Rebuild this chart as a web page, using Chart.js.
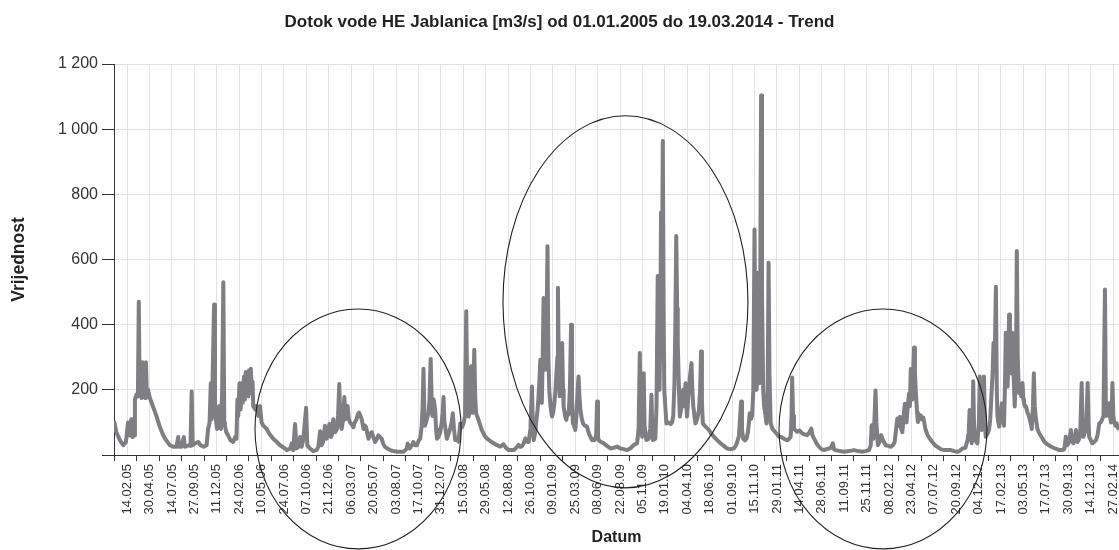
<!DOCTYPE html>
<html>
<head>
<meta charset="utf-8">
<script src="https://cdn.jsdelivr.net/npm/chart.js@4/dist/chart.umd.min.js"></script>
<style>
  html, body { margin: 0; padding: 0; background: #fff; overflow: hidden; }
  #okvir { width: 1119px; height: 550px; position: relative; }
</style>
</head>
<body>
<div id="okvir"><canvas id="grafDotok"></canvas></div>
<script>
// Period i oznake osi (dd.mm.yy)
const pocetak = "01.01.05";
const kraj = "19.03.14";
const oznakeDatuma = ["14.02.05","30.04.05","14.07.05","27.09.05","11.12.05","24.02.06","10.05.06","24.07.06",
  "07.10.06","21.12.06","06.03.07","20.05.07","03.08.07","17.10.07","31.12.07","15.03.08","29.05.08","12.08.08",
  "26.10.08","09.01.09","25.03.09","08.06.09","22.08.09","05.11.09","19.01.10","04.04.10","18.06.10","01.09.10",
  "15.11.10","29.01.11","14.04.11","28.06.11","11.09.11","25.11.11","08.02.12","23.04.12","07.07.12","20.09.12",
  "04.12.12","17.02.13","03.05.13","17.07.13","30.09.13","14.12.13","27.02.14"];
const yOznake = [0, 200, 400, 600, 800, 1000, 1200];

// Dotok [dan od 01.01.2005, m3/s] - ocitano sa slike
const dotok = [
  [0,105],[8,70],[20,45],[31,30],[40,40],[47,100],[53,60],[58,110],[62,55],[64,110],[67,60],[70,170],[75,185],[80,180],
  [83,470],[86,190],[89,280],[92,175],[95,285],[98,180],[101,280],[104,175],[107,285],[110,180],[114,200],[120,175],
  [130,150],[142,120],[152,90],[165,60],[175,45],[187,30],[200,25],[209,25],[215,55],[218,25],[225,25],[234,55],[237,25],
  [250,30],[256,28],[260,195],[263,30],[270,35],[282,40],[290,30],[300,25],[310,30],[315,80],[320,100],[324,220],[327,110],
  [330,230],[335,462],[338,150],[341,110],[345,80],[349,100],[352,150],[355,100],[358,80],[362,200],[366,530],[369,100],
  [371,90],[376,70],[382,60],[390,45],[399,40],[405,55],[410,50],[413,170],[416,120],[420,220],[424,140],[427,220],
  [431,160],[435,240],[438,170],[441,255],[444,190],[447,215],[450,180],[452,260],[455,190],[458,265],[461,200],[464,225],
  [466,150],[472,140],[477,150],[483,120],[489,150],[494,100],[500,90],[511,80],[520,65],[533,50],[545,40],[556,30],[572,20],
  [578,15],[590,20],[595,35],[600,15],[606,95],[611,20],[617,25],[623,55],[628,25],[634,50],[643,145],[647,30],[656,20],
  [667,12],[678,15],[684,25],[690,73],[695,30],[700,40],[706,90],[712,50],[716,70],[721,95],[726,55],[729,60],[734,110],
  [740,70],[746,80],[750,120],[754,218],[758,90],[762,80],[767,110],[771,178],[775,110],[777,140],[782,150],[786,110],
  [790,100],[795,95],[801,85],[806,100],[812,110],[816,125],[820,130],[825,120],[829,110],[835,80],[840,90],[844,85],
  [848,65],[852,50],[857,65],[863,70],[868,55],[874,40],[880,50],[885,60],[890,55],[896,50],[901,35],[907,25],[915,20],
  [924,15],[935,12],[947,10],[958,10],[969,10],[975,15],[980,20],[983,35],[986,30],[990,20],[997,30],[1002,40],[1008,30],
  [1014,30],[1020,45],[1025,50],[1030,90],[1033,150],[1036,265],[1039,120],[1041,90],[1047,110],[1053,130],[1056,170],
  [1060,295],[1063,180],[1066,120],[1070,170],[1075,140],[1078,80],[1081,50],[1086,55],[1092,70],[1097,100],[1100,130],
  [1103,178],[1106,100],[1108,90],[1114,50],[1120,65],[1125,80],[1130,100],[1134,128],[1138,80],
  [1142,46],[1148,50],[1153,41],[1159,97],[1165,85],[1170,97],[1175,120],[1179,441],[1183,150],[1187,118],[1191,140],
  [1195,272],[1198,160],[1200,130],[1203,200],[1206,323],[1209,180],[1212,128],[1220,108],[1231,77],[1240,60],[1248,51],
  [1260,42],[1271,36],[1282,30],[1293,26],[1304,33],[1312,22],[1321,15],[1330,15],[1338,15],[1346,22],[1354,31],[1360,25],
  [1365,26],[1371,35],[1377,51],[1383,40],[1388,40],[1394,80],[1399,210],[1402,90],[1405,46],[1410,70],[1414,108],
  [1418,140],[1421,180],[1424,230],[1427,292],[1430,200],[1432,160],[1435,300],[1438,482],[1441,280],[1444,262],
  [1448,400],[1451,641],[1454,300],[1457,200],[1461,150],[1466,118],[1470,130],[1474,160],[1477,190],[1481,250],
  [1484,300],[1486,513],[1489,250],[1492,180],[1496,240],[1500,344],[1503,200],[1505,149],[1510,120],[1514,108],
  [1518,130],[1522,125],[1526,200],[1530,400],[1533,180],[1536,97],[1540,90],[1544,77],[1548,120],[1552,200],[1555,241],
  [1558,180],[1561,140],[1566,110],[1570,97],[1576,90],[1583,87],[1590,65],[1600,46],[1608,45],[1614,60],[1617,164],
  [1620,60],[1622,46],[1630,40],[1639,36],[1650,28],[1662,20],[1672,22],[1684,26],[1695,20],
  [1706,18],[1717,15],[1728,20],[1740,31],[1751,36],[1756,80],[1760,313],[1764,80],[1768,56],[1771,150],[1773,251],
  [1776,90],[1782,46],[1790,50],[1795,80],[1799,185],[1802,70],[1804,46],[1812,50],[1816,150],[1820,549],[1823,300],
  [1826,200],[1829,400],[1831,744],[1834,500],[1837,964],[1840,400],[1842,200],[1846,140],[1849,97],[1857,100],[1863,95],
  [1868,100],[1872,120],[1876,220],[1879,400],[1882,672],[1885,450],[1887,344],[1891,200],[1894,118],[1900,150],
  [1905,200],[1909,150],[1913,220],[1916,150],[1918,118],[1924,200],[1929,250],[1933,282],[1936,200],[1939,150],
  [1943,120],[1946,97],[1952,110],[1958,138],[1962,200],[1965,318],[1968,160],[1971,97],[1980,87],[1991,77],[2000,65],
  [2008,56],[2020,45],[2030,36],[2041,28],[2052,20],[2064,18],[2075,20],[2082,30],[2086,40],[2092,60],[2096,120],
  [2099,164],[2102,80],[2106,50],[2112,45],[2117,50],[2122,70],[2128,128],[2132,110],[2136,120],[2140,200],[2144,692],
  [2147,300],[2151,200],[2153,350],[2155,559],[2158,300],[2160,220],[2163,500],[2166,1103],[2169,500],[2173,200],
  [2176,150],[2180,128],[2184,97],[2188,200],[2191,590],[2194,250],[2198,97],[2204,80],[2209,75],[2218,65],[2226,56],
  [2234,55],[2242,50],[2254,45],[2260,50],[2265,56],
  [2268,120],[2270,238],[2273,120],[2276,81],[2282,75],[2287,71],[2295,75],[2304,66],[2312,63],[2320,61],[2328,70],
  [2334,81],[2338,60],[2343,51],[2352,35],[2360,25],[2368,18],[2376,15],[2385,18],[2393,20],[2400,22],[2406,36],
  [2410,18],[2415,15],[2430,12],[2443,10],[2460,12],[2477,15],[2490,12],[2505,10],[2515,12],[2527,15],[2533,30],
  [2536,91],[2540,60],[2542,50],[2546,120],[2549,198],[2552,100],[2557,30],[2562,40],[2568,61],[2574,45],[2583,30],
  [2592,28],[2600,25],[2607,30],[2613,40],[2618,80],[2622,112],[2626,90],[2631,117],[2635,80],[2639,70],[2643,120],
  [2647,157],[2650,110],[2653,100],[2657,150],[2661,188],[2664,150],[2667,264],[2670,180],[2672,170],[2675,250],
  [2678,330],[2681,250],[2684,193],[2688,130],[2691,101],[2696,115],[2700,122],[2704,110],[2709,115],[2716,80],
  [2723,61],[2731,50],[2739,40],[2748,30],[2756,25],[2767,18],[2778,15],[2790,15],[2801,15],[2812,12],[2823,10],[2830,12],
  [2840,20],[2850,22],[2857,46],[2861,70],[2864,138],[2867,60],[2871,36],[2874,100],[2876,226],[2879,80],[2882,46],
  [2890,36],[2895,100],[2898,241],[2901,120],[2905,77],[2909,150],[2912,241],[2915,100],[2918,56],[2924,65],[2929,77],
  [2933,110],[2938,200],[2941,250],[2944,344],[2948,300],[2952,516],[2955,200],[2957,120],[2960,100],[2963,87],
  [2967,120],[2972,159],[2976,110],[2979,90],[2982,200],[2985,375],[2988,250],[2991,210],[2994,300],[2996,431],
  [2999,300],[3002,300],[3005,250],[3007,375],[3011,250],[3015,149],[3019,250],[3022,626],[3025,300],[3027,240],
  [3030,190],[3033,200],[3037,180],[3041,221],[3044,170],[3046,160],[3049,150],[3052,150],[3058,130],[3063,118],
  [3068,100],[3072,80],[3076,150],[3079,251],[3082,150],[3086,110],[3091,80],[3097,67],[3105,55],[3114,41],[3125,32],
  [3136,26],[3150,20],[3164,15],[3175,15],[3181,18],[3186,56],[3190,30],[3195,36],[3199,50],[3203,77],[3207,40],
  [3211,36],[3216,50],[3220,77],[3225,40],[3229,46],[3234,60],[3239,221],[3242,100],[3245,56],[3250,70],[3255,100],
  [3259,221],[3262,100],[3264,56],[3270,45],[3275,36],[3281,40],[3287,46],[3292,60],[3298,97],[3303,100],[3307,108],
  [3312,120],[3317,508],[3320,150],[3322,120],[3327,140],[3331,159],[3334,120],[3337,100],[3340,150],[3342,221],
  [3345,120],[3348,100],[3352,90],[3356,97],[3360,85],[3364,77]
];

// Rucno nacrtane elipse (sredina i poluose u jedinicama osa: dani / m3/s)
const elipse = [
  { dan: 817, vrijednost: 80, rDani: 345, rVrijednost: 368 },
  { dan: 1712, vrijednost: 470, rDani: 410, rVrijednost: 571 },
  { dan: 2574, vrijednost: 80, rDani: 348, rVrijednost: 368 }
];

function uDan(s) {
  const [d, m, g] = s.split(".").map(Number);
  return (Date.UTC(2000 + g, m - 1, d) - Date.UTC(2005, 0, 1)) / 86400000;
}

const danKraj = uDan(kraj);
const daniOznaka = oznakeDatuma.map(uDan);
const korak = daniOznaka[1] - daniOznaka[0];

function formatBroj(v) {
  return String(v).replace(/\B(?=(\d{3})+(?!\d))/g, " ");
}

// Crtice na x osi (svakih 75 dana od pocetka) i elipse
const dodaci = {
  id: "dodaci",
  afterDraw(chart) {
    const { ctx, scales: { x, y }, chartArea } = chart;
    ctx.save();
    ctx.strokeStyle = "#333";
    ctx.lineWidth = 1;
    ctx.beginPath();
    for (let d = uDan(pocetak); d <= danKraj; d += korak) {
      const px = Math.round(x.getPixelForValue(d)) + 0.5;
      ctx.moveTo(px, chartArea.bottom);
      ctx.lineTo(px, chartArea.bottom + 6);
    }
    ctx.stroke();

    ctx.strokeStyle = "#222";
    ctx.lineWidth = 1.1;
    elipse.forEach(e => {
      const cx = x.getPixelForValue(e.dan);
      const cy = y.getPixelForValue(e.vrijednost);
      const rx = x.getPixelForValue(e.dan + e.rDani) - cx;
      const ry = cy - y.getPixelForValue(e.vrijednost + e.rVrijednost);
      ctx.beginPath();
      ctx.ellipse(cx, cy, rx, ry, 0, 0, Math.PI * 2);
      ctx.stroke();
    });
    ctx.restore();
  }
};

Chart.defaults.font.family = "'Liberation Sans', Arial, sans-serif";
Chart.defaults.color = "#333";

new Chart(document.getElementById("grafDotok"), {
  type: "line",
  data: {
    datasets: [{
      label: "Dotok",
      data: dotok.map(([d, v]) => ({ x: d, y: v })),
      borderColor: "#7e7e83",
      borderWidth: 4,
      borderJoinStyle: "round",
      pointRadius: 0,
      tension: 0,
      fill: false
    }]
  },
  options: {
    responsive: true,
    maintainAspectRatio: false,
    animation: false,
    layout: { padding: 0 },
    plugins: {
      legend: { display: false },
      tooltip: { enabled: false },
      title: {
        display: true,
        text: "Dotok vode HE Jablanica [m3/s] od 01.01.2005 do 19.03.2014 - Trend",
        color: "#222",
        font: { size: 17, weight: "bold" },
        padding: { top: 12, bottom: 31.6 }
      }
    },
    scales: {
      x: {
        type: "linear",
        min: uDan(pocetak),
        max: danKraj,
        afterBuildTicks: s => { s.ticks = daniOznaka.map(v => ({ value: v })); },
        afterFit: s => { s.height = 95; s.paddingLeft = 0; s.paddingRight = 0; },
        ticks: {
          autoSkip: false,
          minRotation: 90,
          maxRotation: 90,
          padding: 9,
          font: { size: 13 },
          color: "#333",
          callback: (v, i) => oznakeDatuma[i]
        },
        grid: { color: "#e3e3e3", drawTicks: false },
        border: { color: "#333", width: 1 },
        title: {
          display: true,
          text: "Datum",
          color: "#222",
          font: { size: 16, weight: "bold" },
          padding: { top: 0, bottom: 3 }
        }
      },
      y: {
        min: yOznake[0],
        max: yOznake[yOznake.length - 1],
        afterBuildTicks: s => { s.ticks = yOznake.map(v => ({ value: v })); },
        afterFit: s => { s.width = 114; },
        ticks: {
          padding: 4,
          font: { size: 16 },
          color: "#333",
          callback: v => (v === 0 ? "" : formatBroj(v))
        },
        grid: { color: "#e3e3e3", tickColor: "#333", tickLength: 12 },
        border: { color: "#333", width: 1 },
        title: {
          display: true,
          text: "Vrijednost",
          color: "#222",
          font: { size: 17.5, weight: "bold" },
          padding: { top: 9, bottom: 0 }
        }
      }
    }
  },
  plugins: [dodaci]
});
</script>
</body>
</html>
